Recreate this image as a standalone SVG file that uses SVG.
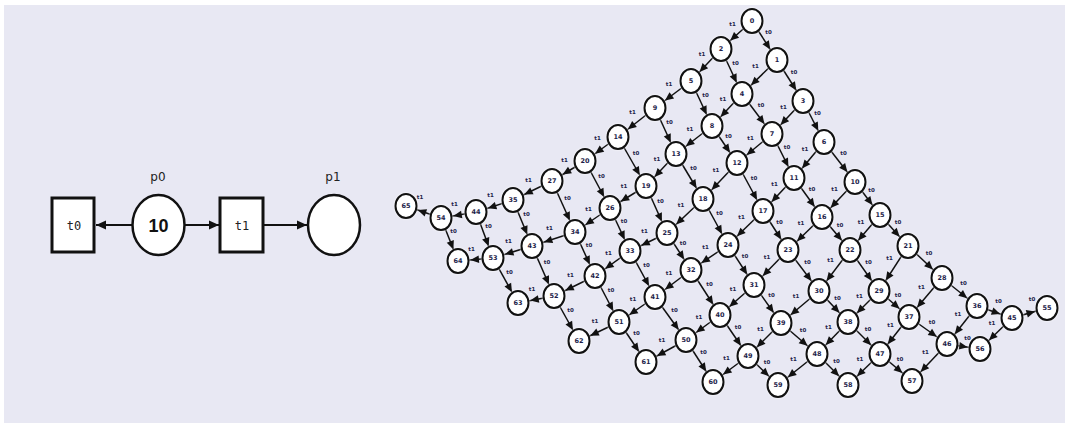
<svg xmlns="http://www.w3.org/2000/svg" width="1065" height="423" viewBox="0 0 1065 423">
<style>
.bg{fill:#e8e8f3}
.e{stroke:#111;stroke-width:1.5;fill:none;marker-end:url(#ah)}
.pe{stroke:#111;stroke-width:2;fill:none;marker-end:url(#pa)}
.el{font-family:"DejaVu Sans",sans-serif;font-size:5.5px;font-weight:bold;fill:#23234a;text-anchor:middle;dominant-baseline:central}
.node ellipse{fill:#fff;stroke:#111;stroke-width:2;filter:drop-shadow(0 0 1.2px #fff)}
.node text{font-family:"DejaVu Sans",sans-serif;font-size:6.5px;font-weight:bold;fill:#1e1e4a;text-anchor:middle;dominant-baseline:central}
.tr rect{fill:#fff;stroke:#111;stroke-width:3}
.pl ellipse{fill:#fff;stroke:#111;stroke-width:2.5}
.tl{font-family:"DejaVu Sans Mono",monospace;font-size:12px;fill:#222;text-anchor:middle;dominant-baseline:central}
.pn{font-family:"DejaVu Sans",sans-serif;font-size:12px;fill:#222;text-anchor:middle}
.tok{font-family:"Liberation Sans",Arial,sans-serif;font-size:18px;font-weight:bold;fill:#111;text-anchor:middle;dominant-baseline:central}
</style>
<defs>
<marker id="ah" markerUnits="userSpaceOnUse" orient="auto" refX="12.5" refY="0" overflow="visible"><path d="M-8.5,-3.8 L0,0 L-8.5,3.8 z" fill="#111"/></marker>
<marker id="pa" markerUnits="userSpaceOnUse" orient="auto" refX="0" refY="0" overflow="visible"><path d="M-10,-4.5 L0,0 L-10,4.5 z" fill="#111"/></marker>
</defs>
<rect class="bg" x="4" y="5" width="1061" height="418"/>

<g id="petri-connectors">
<line class="pe" x1="132" y1="225" x2="96" y2="225"/>
<line class="pe" x1="185" y1="225" x2="219" y2="225"/>
<line class="pe" x1="263" y1="225" x2="307" y2="225"/>
</g>
<g id="t0" class="tr"><rect x="52" y="198" width="42" height="54"/><text class="tl" x="74" y="226">t0</text></g>
<g id="p0" class="pl"><ellipse cx="158.5" cy="225" rx="26" ry="30"/><text class="tok" x="158.5" y="226">10</text><text class="pn" x="158" y="181">p0</text></g>
<g id="t1" class="tr"><rect x="220" y="198" width="43" height="54"/><text class="tl" x="242" y="226">t1</text></g>
<g id="p1" class="pl"><ellipse cx="334" cy="225" rx="26" ry="30"/><text class="pn" x="333" y="181">p1</text></g>

<g id="connectors">
<line class="e" x1="752" y1="21" x2="777" y2="60"/><text class="el" x="768.5" y="31.5">t0</text>
<line class="e" x1="752" y1="21" x2="721" y2="49"/><text class="el" x="732.5" y="24">t1</text>
<line class="e" x1="777" y1="60" x2="803" y2="101"/><text class="el" x="794" y="71.5">t0</text>
<line class="e" x1="777" y1="60" x2="742" y2="94"/><text class="el" x="755.5" y="66">t1</text>
<line class="e" x1="721" y1="49" x2="742" y2="94"/><text class="el" x="735.5" y="62.5">t0</text>
<line class="e" x1="721" y1="49" x2="691" y2="81"/><text class="el" x="702" y="54">t1</text>
<line class="e" x1="803" y1="101" x2="824" y2="142"/><text class="el" x="817.5" y="112.5">t0</text>
<line class="e" x1="803" y1="101" x2="772" y2="134"/><text class="el" x="783.5" y="106.5">t1</text>
<line class="e" x1="742" y1="94" x2="772" y2="134"/><text class="el" x="761" y="105">t0</text>
<line class="e" x1="742" y1="94" x2="712" y2="126"/><text class="el" x="723" y="99">t1</text>
<line class="e" x1="691" y1="81" x2="712" y2="126"/><text class="el" x="705.5" y="94.5">t0</text>
<line class="e" x1="691" y1="81" x2="655" y2="108"/><text class="el" x="669" y="83.5">t1</text>
<line class="e" x1="824" y1="142" x2="855" y2="182"/><text class="el" x="843.5" y="153">t0</text>
<line class="e" x1="824" y1="142" x2="794" y2="178"/><text class="el" x="805" y="149">t1</text>
<line class="e" x1="772" y1="134" x2="794" y2="178"/><text class="el" x="787" y="147">t0</text>
<line class="e" x1="772" y1="134" x2="737" y2="163"/><text class="el" x="750.5" y="137.5">t1</text>
<line class="e" x1="712" y1="126" x2="737" y2="163"/><text class="el" x="728.5" y="135.5">t0</text>
<line class="e" x1="712" y1="126" x2="676" y2="154"/><text class="el" x="690" y="129">t1</text>
<line class="e" x1="655" y1="108" x2="676" y2="154"/><text class="el" x="669.5" y="122">t0</text>
<line class="e" x1="655" y1="108" x2="618" y2="137"/><text class="el" x="632.5" y="111.5">t1</text>
<line class="e" x1="855" y1="182" x2="880" y2="215"/><text class="el" x="871.5" y="189.5">t0</text>
<line class="e" x1="855" y1="182" x2="822" y2="217"/><text class="el" x="834.5" y="188.5">t1</text>
<line class="e" x1="794" y1="178" x2="822" y2="217"/><text class="el" x="812" y="188.5">t0</text>
<line class="e" x1="794" y1="178" x2="763" y2="211"/><text class="el" x="774.5" y="183.5">t1</text>
<line class="e" x1="737" y1="163" x2="763" y2="211"/><text class="el" x="754" y="178">t0</text>
<line class="e" x1="737" y1="163" x2="703" y2="199"/><text class="el" x="716" y="170">t1</text>
<line class="e" x1="676" y1="154" x2="703" y2="199"/><text class="el" x="693.5" y="167.5">t0</text>
<line class="e" x1="676" y1="154" x2="646" y2="186"/><text class="el" x="657" y="159">t1</text>
<line class="e" x1="618" y1="137" x2="646" y2="186"/><text class="el" x="636" y="152.5">t0</text>
<line class="e" x1="618" y1="137" x2="585" y2="161"/><text class="el" x="597.5" y="138">t1</text>
<line class="e" x1="880" y1="215" x2="908" y2="246"/><text class="el" x="898" y="221.5">t0</text>
<line class="e" x1="880" y1="215" x2="850" y2="250"/><text class="el" x="861" y="221.5">t1</text>
<line class="e" x1="822" y1="217" x2="850" y2="250"/><text class="el" x="840" y="224.5">t0</text>
<line class="e" x1="822" y1="217" x2="788" y2="250"/><text class="el" x="801" y="222.5">t1</text>
<line class="e" x1="763" y1="211" x2="788" y2="250"/><text class="el" x="779.5" y="221.5">t0</text>
<line class="e" x1="763" y1="211" x2="728" y2="245"/><text class="el" x="741.5" y="217">t1</text>
<line class="e" x1="703" y1="199" x2="728" y2="245"/><text class="el" x="719.5" y="213">t0</text>
<line class="e" x1="703" y1="199" x2="667" y2="233"/><text class="el" x="681" y="205">t1</text>
<line class="e" x1="646" y1="186" x2="667" y2="233"/><text class="el" x="660.5" y="200.5">t0</text>
<line class="e" x1="646" y1="186" x2="610" y2="208"/><text class="el" x="624" y="186">t1</text>
<line class="e" x1="585" y1="161" x2="610" y2="208"/><text class="el" x="601.5" y="175.5">t0</text>
<line class="e" x1="585" y1="161" x2="552" y2="181"/><text class="el" x="564.5" y="160">t1</text>
<line class="e" x1="908" y1="246" x2="942" y2="278"/><text class="el" x="929" y="253">t0</text>
<line class="e" x1="908" y1="246" x2="879" y2="291"/><text class="el" x="889.5" y="257.5">t1</text>
<line class="e" x1="850" y1="250" x2="879" y2="291"/><text class="el" x="868.5" y="261.5">t0</text>
<line class="e" x1="850" y1="250" x2="819" y2="291"/><text class="el" x="830.5" y="259.5">t1</text>
<line class="e" x1="788" y1="250" x2="819" y2="291"/><text class="el" x="807.5" y="261.5">t0</text>
<line class="e" x1="788" y1="250" x2="754" y2="285"/><text class="el" x="767" y="256.5">t1</text>
<line class="e" x1="728" y1="245" x2="754" y2="285"/><text class="el" x="745" y="256">t0</text>
<line class="e" x1="728" y1="245" x2="691" y2="270"/><text class="el" x="705.5" y="246.5">t1</text>
<line class="e" x1="667" y1="233" x2="691" y2="270"/><text class="el" x="683" y="242.5">t0</text>
<line class="e" x1="667" y1="233" x2="630" y2="251"/><text class="el" x="644.5" y="231">t1</text>
<line class="e" x1="610" y1="208" x2="630" y2="251"/><text class="el" x="624" y="220.5">t0</text>
<line class="e" x1="610" y1="208" x2="575" y2="232"/><text class="el" x="588.5" y="209">t1</text>
<line class="e" x1="552" y1="181" x2="575" y2="232"/><text class="el" x="567.5" y="197.5">t0</text>
<line class="e" x1="552" y1="181" x2="513" y2="200"/><text class="el" x="528.5" y="179.5">t1</text>
<line class="e" x1="942" y1="278" x2="977" y2="306"/><text class="el" x="963.5" y="283">t0</text>
<line class="e" x1="942" y1="278" x2="909" y2="317"/><text class="el" x="921.5" y="286.5">t1</text>
<line class="e" x1="879" y1="291" x2="909" y2="317"/><text class="el" x="898" y="295">t0</text>
<line class="e" x1="879" y1="291" x2="848" y2="322"/><text class="el" x="859.5" y="295.5">t1</text>
<line class="e" x1="819" y1="291" x2="848" y2="322"/><text class="el" x="837.5" y="297.5">t0</text>
<line class="e" x1="819" y1="291" x2="781" y2="323"/><text class="el" x="796" y="296">t1</text>
<line class="e" x1="754" y1="285" x2="781" y2="323"/><text class="el" x="771.5" y="295">t0</text>
<line class="e" x1="754" y1="285" x2="720" y2="315"/><text class="el" x="733" y="289">t1</text>
<line class="e" x1="691" y1="270" x2="720" y2="315"/><text class="el" x="709.5" y="283.5">t0</text>
<line class="e" x1="691" y1="270" x2="655" y2="297"/><text class="el" x="669" y="272.5">t1</text>
<line class="e" x1="630" y1="251" x2="655" y2="297"/><text class="el" x="646.5" y="265">t0</text>
<line class="e" x1="630" y1="251" x2="595" y2="276"/><text class="el" x="608.5" y="252.5">t1</text>
<line class="e" x1="575" y1="232" x2="595" y2="276"/><text class="el" x="589" y="245">t0</text>
<line class="e" x1="575" y1="232" x2="532" y2="246"/><text class="el" x="549.5" y="228">t1</text>
<line class="e" x1="513" y1="200" x2="532" y2="246"/><text class="el" x="526.5" y="214">t0</text>
<line class="e" x1="513" y1="200" x2="476" y2="212"/><text class="el" x="490.5" y="195">t1</text>
<line class="e" x1="977" y1="306" x2="1012" y2="318"/><text class="el" x="998.5" y="301">t0</text>
<line class="e" x1="977" y1="306" x2="947" y2="344"/><text class="el" x="958" y="314">t1</text>
<line class="e" x1="909" y1="317" x2="947" y2="344"/><text class="el" x="932" y="321.5">t0</text>
<line class="e" x1="909" y1="317" x2="880" y2="354"/><text class="el" x="890.5" y="324.5">t1</text>
<line class="e" x1="848" y1="322" x2="880" y2="354"/><text class="el" x="868" y="329">t0</text>
<line class="e" x1="848" y1="322" x2="817" y2="354"/><text class="el" x="828.5" y="327">t1</text>
<line class="e" x1="781" y1="323" x2="817" y2="354"/><text class="el" x="803" y="329.5">t0</text>
<line class="e" x1="781" y1="323" x2="748" y2="356"/><text class="el" x="760.5" y="328.5">t1</text>
<line class="e" x1="720" y1="315" x2="748" y2="356"/><text class="el" x="738" y="326.5">t0</text>
<line class="e" x1="720" y1="315" x2="686" y2="340"/><text class="el" x="699" y="316.5">t1</text>
<line class="e" x1="655" y1="297" x2="686" y2="340"/><text class="el" x="674.5" y="309.5">t0</text>
<line class="e" x1="655" y1="297" x2="619" y2="322"/><text class="el" x="633" y="298.5">t1</text>
<line class="e" x1="595" y1="276" x2="619" y2="322"/><text class="el" x="611" y="290">t0</text>
<line class="e" x1="595" y1="276" x2="554" y2="296"/><text class="el" x="570.5" y="275">t1</text>
<line class="e" x1="532" y1="246" x2="554" y2="296"/><text class="el" x="547" y="262">t0</text>
<line class="e" x1="532" y1="246" x2="493" y2="258"/><text class="el" x="508.5" y="241">t1</text>
<line class="e" x1="476" y1="212" x2="493" y2="258"/><text class="el" x="488.5" y="226">t0</text>
<line class="e" x1="476" y1="212" x2="441" y2="218"/><text class="el" x="454.5" y="204">t1</text>
<line class="e" x1="1012" y1="318" x2="1047" y2="308"/><text class="el" x="1032" y="299">t0</text>
<line class="e" x1="1012" y1="318" x2="980" y2="349"/><text class="el" x="992" y="322.5">t1</text>
<line class="e" x1="947" y1="344" x2="980" y2="349"/><text class="el" x="967.5" y="337.5">t0</text>
<line class="e" x1="947" y1="344" x2="912" y2="381"/><text class="el" x="925.5" y="351.5">t1</text>
<line class="e" x1="880" y1="354" x2="912" y2="381"/><text class="el" x="900" y="358.5">t0</text>
<line class="e" x1="880" y1="354" x2="848" y2="385"/><text class="el" x="860" y="358.5">t1</text>
<line class="e" x1="817" y1="354" x2="848" y2="385"/><text class="el" x="836.5" y="360.5">t0</text>
<line class="e" x1="817" y1="354" x2="778" y2="385"/><text class="el" x="793.5" y="358.5">t1</text>
<line class="e" x1="748" y1="356" x2="778" y2="385"/><text class="el" x="767" y="361.5">t0</text>
<line class="e" x1="748" y1="356" x2="713" y2="382"/><text class="el" x="726.5" y="358">t1</text>
<line class="e" x1="686" y1="340" x2="713" y2="382"/><text class="el" x="703.5" y="352">t0</text>
<line class="e" x1="686" y1="340" x2="646" y2="362"/><text class="el" x="662" y="340">t1</text>
<line class="e" x1="619" y1="322" x2="646" y2="362"/><text class="el" x="636.5" y="333">t0</text>
<line class="e" x1="619" y1="322" x2="579" y2="341"/><text class="el" x="595" y="320.5">t1</text>
<line class="e" x1="554" y1="296" x2="579" y2="341"/><text class="el" x="570.5" y="309.5">t0</text>
<line class="e" x1="554" y1="296" x2="518" y2="303"/><text class="el" x="532" y="288.5">t1</text>
<line class="e" x1="493" y1="258" x2="518" y2="303"/><text class="el" x="509.5" y="271.5">t0</text>
<line class="e" x1="493" y1="258" x2="458" y2="261"/><text class="el" x="471.5" y="248.5">t1</text>
<line class="e" x1="441" y1="218" x2="458" y2="261"/><text class="el" x="453.5" y="230.5">t0</text>
<line class="e" x1="441" y1="218" x2="406" y2="206"/><text class="el" x="420" y="197">t1</text>
</g>

<g id="s0" class="node"><ellipse cx="752" cy="21" rx="10.5" ry="12"/><text x="752" y="21">0</text></g>
<g id="s1" class="node"><ellipse cx="777" cy="60" rx="10.5" ry="12"/><text x="777" y="60">1</text></g>
<g id="s2" class="node"><ellipse cx="721" cy="49" rx="10.5" ry="12"/><text x="721" y="49">2</text></g>
<g id="s3" class="node"><ellipse cx="803" cy="101" rx="10.5" ry="12"/><text x="803" y="101">3</text></g>
<g id="s4" class="node"><ellipse cx="742" cy="94" rx="10.5" ry="12"/><text x="742" y="94">4</text></g>
<g id="s5" class="node"><ellipse cx="691" cy="81" rx="10.5" ry="12"/><text x="691" y="81">5</text></g>
<g id="s6" class="node"><ellipse cx="824" cy="142" rx="10.5" ry="12"/><text x="824" y="142">6</text></g>
<g id="s7" class="node"><ellipse cx="772" cy="134" rx="10.5" ry="12"/><text x="772" y="134">7</text></g>
<g id="s8" class="node"><ellipse cx="712" cy="126" rx="10.5" ry="12"/><text x="712" y="126">8</text></g>
<g id="s9" class="node"><ellipse cx="655" cy="108" rx="10.5" ry="12"/><text x="655" y="108">9</text></g>
<g id="s10" class="node"><ellipse cx="855" cy="182" rx="10.5" ry="12"/><text x="855" y="182">10</text></g>
<g id="s11" class="node"><ellipse cx="794" cy="178" rx="10.5" ry="12"/><text x="794" y="178">11</text></g>
<g id="s12" class="node"><ellipse cx="737" cy="163" rx="10.5" ry="12"/><text x="737" y="163">12</text></g>
<g id="s13" class="node"><ellipse cx="676" cy="154" rx="10.5" ry="12"/><text x="676" y="154">13</text></g>
<g id="s14" class="node"><ellipse cx="618" cy="137" rx="10.5" ry="12"/><text x="618" y="137">14</text></g>
<g id="s15" class="node"><ellipse cx="880" cy="215" rx="10.5" ry="12"/><text x="880" y="215">15</text></g>
<g id="s16" class="node"><ellipse cx="822" cy="217" rx="10.5" ry="12"/><text x="822" y="217">16</text></g>
<g id="s17" class="node"><ellipse cx="763" cy="211" rx="10.5" ry="12"/><text x="763" y="211">17</text></g>
<g id="s18" class="node"><ellipse cx="703" cy="199" rx="10.5" ry="12"/><text x="703" y="199">18</text></g>
<g id="s19" class="node"><ellipse cx="646" cy="186" rx="10.5" ry="12"/><text x="646" y="186">19</text></g>
<g id="s20" class="node"><ellipse cx="585" cy="161" rx="10.5" ry="12"/><text x="585" y="161">20</text></g>
<g id="s21" class="node"><ellipse cx="908" cy="246" rx="10.5" ry="12"/><text x="908" y="246">21</text></g>
<g id="s22" class="node"><ellipse cx="850" cy="250" rx="10.5" ry="12"/><text x="850" y="250">22</text></g>
<g id="s23" class="node"><ellipse cx="788" cy="250" rx="10.5" ry="12"/><text x="788" y="250">23</text></g>
<g id="s24" class="node"><ellipse cx="728" cy="245" rx="10.5" ry="12"/><text x="728" y="245">24</text></g>
<g id="s25" class="node"><ellipse cx="667" cy="233" rx="10.5" ry="12"/><text x="667" y="233">25</text></g>
<g id="s26" class="node"><ellipse cx="610" cy="208" rx="10.5" ry="12"/><text x="610" y="208">26</text></g>
<g id="s27" class="node"><ellipse cx="552" cy="181" rx="10.5" ry="12"/><text x="552" y="181">27</text></g>
<g id="s28" class="node"><ellipse cx="942" cy="278" rx="10.5" ry="12"/><text x="942" y="278">28</text></g>
<g id="s29" class="node"><ellipse cx="879" cy="291" rx="10.5" ry="12"/><text x="879" y="291">29</text></g>
<g id="s30" class="node"><ellipse cx="819" cy="291" rx="10.5" ry="12"/><text x="819" y="291">30</text></g>
<g id="s31" class="node"><ellipse cx="754" cy="285" rx="10.5" ry="12"/><text x="754" y="285">31</text></g>
<g id="s32" class="node"><ellipse cx="691" cy="270" rx="10.5" ry="12"/><text x="691" y="270">32</text></g>
<g id="s33" class="node"><ellipse cx="630" cy="251" rx="10.5" ry="12"/><text x="630" y="251">33</text></g>
<g id="s34" class="node"><ellipse cx="575" cy="232" rx="10.5" ry="12"/><text x="575" y="232">34</text></g>
<g id="s35" class="node"><ellipse cx="513" cy="200" rx="10.5" ry="12"/><text x="513" y="200">35</text></g>
<g id="s36" class="node"><ellipse cx="977" cy="306" rx="10.5" ry="12"/><text x="977" y="306">36</text></g>
<g id="s37" class="node"><ellipse cx="909" cy="317" rx="10.5" ry="12"/><text x="909" y="317">37</text></g>
<g id="s38" class="node"><ellipse cx="848" cy="322" rx="10.5" ry="12"/><text x="848" y="322">38</text></g>
<g id="s39" class="node"><ellipse cx="781" cy="323" rx="10.5" ry="12"/><text x="781" y="323">39</text></g>
<g id="s40" class="node"><ellipse cx="720" cy="315" rx="10.5" ry="12"/><text x="720" y="315">40</text></g>
<g id="s41" class="node"><ellipse cx="655" cy="297" rx="10.5" ry="12"/><text x="655" y="297">41</text></g>
<g id="s42" class="node"><ellipse cx="595" cy="276" rx="10.5" ry="12"/><text x="595" y="276">42</text></g>
<g id="s43" class="node"><ellipse cx="532" cy="246" rx="10.5" ry="12"/><text x="532" y="246">43</text></g>
<g id="s44" class="node"><ellipse cx="476" cy="212" rx="10.5" ry="12"/><text x="476" y="212">44</text></g>
<g id="s45" class="node"><ellipse cx="1012" cy="318" rx="10.5" ry="12"/><text x="1012" y="318">45</text></g>
<g id="s46" class="node"><ellipse cx="947" cy="344" rx="10.5" ry="12"/><text x="947" y="344">46</text></g>
<g id="s47" class="node"><ellipse cx="880" cy="354" rx="10.5" ry="12"/><text x="880" y="354">47</text></g>
<g id="s48" class="node"><ellipse cx="817" cy="354" rx="10.5" ry="12"/><text x="817" y="354">48</text></g>
<g id="s49" class="node"><ellipse cx="748" cy="356" rx="10.5" ry="12"/><text x="748" y="356">49</text></g>
<g id="s50" class="node"><ellipse cx="686" cy="340" rx="10.5" ry="12"/><text x="686" y="340">50</text></g>
<g id="s51" class="node"><ellipse cx="619" cy="322" rx="10.5" ry="12"/><text x="619" y="322">51</text></g>
<g id="s52" class="node"><ellipse cx="554" cy="296" rx="10.5" ry="12"/><text x="554" y="296">52</text></g>
<g id="s53" class="node"><ellipse cx="493" cy="258" rx="10.5" ry="12"/><text x="493" y="258">53</text></g>
<g id="s54" class="node"><ellipse cx="441" cy="218" rx="10.5" ry="12"/><text x="441" y="218">54</text></g>
<g id="s55" class="node"><ellipse cx="1047" cy="308" rx="10.5" ry="12"/><text x="1047" y="308">55</text></g>
<g id="s56" class="node"><ellipse cx="980" cy="349" rx="10.5" ry="12"/><text x="980" y="349">56</text></g>
<g id="s57" class="node"><ellipse cx="912" cy="381" rx="10.5" ry="12"/><text x="912" y="381">57</text></g>
<g id="s58" class="node"><ellipse cx="848" cy="385" rx="10.5" ry="12"/><text x="848" y="385">58</text></g>
<g id="s59" class="node"><ellipse cx="778" cy="385" rx="10.5" ry="12"/><text x="778" y="385">59</text></g>
<g id="s60" class="node"><ellipse cx="713" cy="382" rx="10.5" ry="12"/><text x="713" y="382">60</text></g>
<g id="s61" class="node"><ellipse cx="646" cy="362" rx="10.5" ry="12"/><text x="646" y="362">61</text></g>
<g id="s62" class="node"><ellipse cx="579" cy="341" rx="10.5" ry="12"/><text x="579" y="341">62</text></g>
<g id="s63" class="node"><ellipse cx="518" cy="303" rx="10.5" ry="12"/><text x="518" y="303">63</text></g>
<g id="s64" class="node"><ellipse cx="458" cy="261" rx="10.5" ry="12"/><text x="458" y="261">64</text></g>
<g id="s65" class="node"><ellipse cx="406" cy="206" rx="10.5" ry="12"/><text x="406" y="206">65</text></g>
</svg>
